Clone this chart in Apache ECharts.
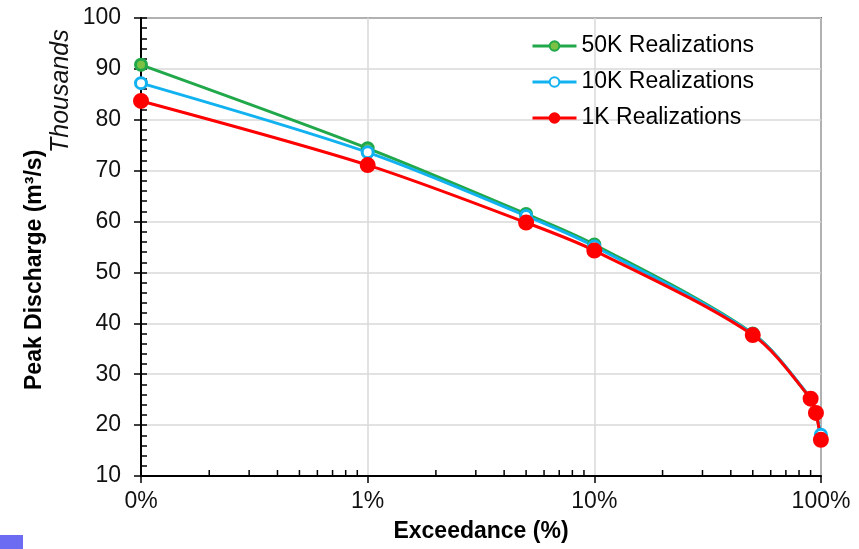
<!DOCTYPE html>
<html>
<head>
<meta charset="utf-8">
<script src="https://cdn.jsdelivr.net/npm/echarts@6/dist/echarts.min.js"></script>
<style>
  html, body { margin: 0; padding: 0; background: #fff; }
  #chart { width: 859px; height: 549px; }
</style>
</head>
<body>
<div id="chart"></div>
<script>
// Exceedance probability (%) of each plotted quantile
const exceedance = [0.1, 1, 5, 10, 50, 90, 95, 99.9];

// Peak discharge in thousands of m³/s
const q50k = [90.8, 74.4, 61.5, 55.5, 38.0, 25.2, 22.3, 17.6];
const q10k = [87.2, 73.6, 61.1, 55.1, 37.9, 25.3, 22.4, 18.1];
const q1k  = [83.7, 71.1, 59.8, 54.3, 37.7, 25.2, 22.4, 17.1];

const seriesNames = ['50K Realizations', '10K Realizations', '1K Realizations'];

// Minor ticks of the logarithmic exceedance axis (2..9 of each decade)
const minorTickValues = [0.2, 0.3, 0.4, 0.5, 0.6, 0.7, 0.8, 0.9,
                         2, 3, 4, 5, 6, 7, 8, 9,
                         20, 30, 40, 50, 60, 70, 80, 90];

const FONT = '"Liberation Sans", Arial, sans-serif';
const GREEN = '#21a84b';
const BLUE = '#12b2f0';
const RED = '#ff0000';

function pairs(ys) {
  return exceedance.map((x, i) => [x, ys[i]]);
}

function lineSeries(name, ys, color, fill, size) {
  return {
    name: name,
    type: 'line',
    data: pairs(ys),
    smooth: 0.3,
    symbol: 'circle',
    symbolSize: size,
    showSymbol: true,
    lineStyle: { color: color, width: 3 },
    itemStyle: { color: fill, borderColor: color, borderWidth: 3 },
    emphasis: { disabled: true },
    z: 3
  };
}

const chart = echarts.init(document.getElementById('chart'), null, { renderer: 'canvas' });

chart.setOption({
  animation: false,
  backgroundColor: '#fff',
  grid: {
    left: 141, top: 18, right: 38, bottom: 73,
    show: true, borderColor: '#000', borderWidth: 1.5, backgroundColor: 'transparent'
  },
  legend: {
    data: seriesNames,
    orient: 'vertical',
    left: 526, top: 28,
    itemWidth: 44, itemHeight: 12, itemGap: 10,
    lineStyle: { width: 3 },
    textStyle: { fontFamily: FONT, fontSize: 23, lineHeight: 26, color: '#000' }
  },
  xAxis: {
    type: 'log',
    logBase: 10,
    min: 0.1, max: 100,
    name: 'Exceedance (%)',
    nameLocation: 'middle',
    nameGap: 44,
    nameTextStyle: { fontFamily: FONT, fontSize: 23, fontWeight: 'bold', color: '#000' },
    axisLine: { lineStyle: { color: '#000', width: 2 } },
    axisTick: { show: true, inside: false, length: 7, lineStyle: { color: '#000', width: 1.5 } },
    axisLabel: {
      fontFamily: FONT, fontSize: 23, color: '#111', margin: 14,
      formatter: v => Math.round(v) + '%'
    },
    splitLine: { show: true, lineStyle: { color: '#d9d9d9', width: 1.5 } },
    minorTick: { show: false }
  },
  yAxis: [
    {
      type: 'value',
      min: 10, max: 100, interval: 10,
      axisLine: { show: true, lineStyle: { color: '#000', width: 2 } },
      axisTick: { show: true, inside: false, length: 7, lineStyle: { color: '#000', width: 1.5 } },
      axisLabel: { fontFamily: FONT, fontSize: 23, color: '#111', margin: 20 },
      splitLine: { show: true, lineStyle: { color: '#d9d9d9', width: 1.5 } }
    },
    {
      type: 'value',
      position: 'left',
      min: 10, max: 100, interval: 2,
      axisLine: { show: false },
      axisTick: { show: true, inside: true, length: 6, lineStyle: { color: '#000', width: 1.5 } },
      axisLabel: { show: false },
      splitLine: { show: false }
    }
  ],
  series: [
    lineSeries(seriesNames[0], q50k, GREEN, '#7cc143', 11),
    lineSeries(seriesNames[1], q10k, BLUE, '#ffffff', 11),
    lineSeries(seriesNames[2], q1k, RED, RED, 13),
    {
      // inward minor tick marks along the exceedance axis
      type: 'custom',
      silent: true,
      clip: false,
      xAxisIndex: 0,
      yAxisIndex: 0,
      data: minorTickValues.map(v => [v, 10]),
      renderItem: function (params, api) {
        const p = api.coord([api.value(0), api.value(1)]);
        return {
          type: 'line',
          shape: { x1: p[0], y1: p[1], x2: p[0], y2: p[1] - 6 },
          style: { stroke: '#000', lineWidth: 1.5 }
        };
      },
      z: 4
    }
  ],
  graphic: [
    {
      type: 'text',
      rotation: Math.PI / 2,
      x: 23, y: 390,
      style: {
        text: 'Peak Discharge (m³/s)',
        font: 'bold 23px ' + FONT,
        fill: '#000'
      }
    },
    {
      type: 'text',
      rotation: Math.PI / 2,
      x: 49, y: 153,
      style: {
        text: 'Thousands',
        font: 'italic 25px ' + FONT,
        fill: '#111'
      }
    },
    {
      type: 'rect',
      shape: { x: 0, y: 535, width: 23, height: 14 },
      style: { fill: '#6c6cf2' }
    }
  ]
});
</script>
</body>
</html>
